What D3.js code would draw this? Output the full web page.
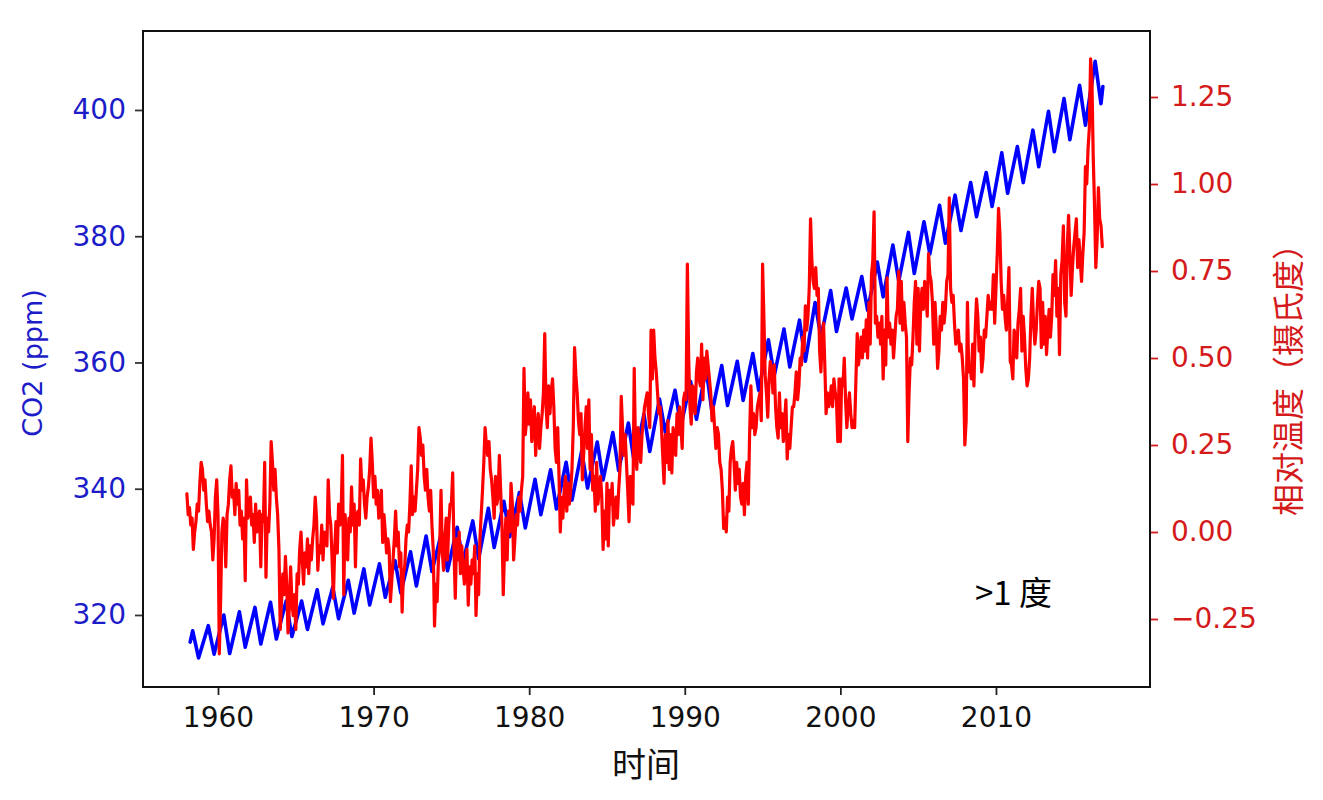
<!DOCTYPE html>
<html><head><meta charset="utf-8">
<script src="https://cdn.jsdelivr.net/npm/d3@7"></script>
<style>body{margin:0;background:#fff}svg{display:block}</style>
</head><body>
<svg id="c" width="1323" height="800"></svg>
<script>
// ---------- data ----------
const xTickYears = [1960, 1970, 1980, 1990, 2000, 2010];
const co2TickValues = [320, 340, 360, 380, 400];
const tempTickValues = [-0.25, 0, 0.25, 0.5, 0.75, 1.0, 1.25];
const tempTickLabels = ["\u22120.25", "0.00", "0.25", "0.50", "0.75", "1.00", "1.25"];

// Mauna Loa CO2 (ppm): yearly May maximum and autumn minimum
const co2Years = [1958,1959,1960,1961,1962,1963,1964,1965,1966,1967,1968,1969,1970,1971,1972,1973,1974,1975,1976,1977,1978,1979,1980,1981,1982,1983,1984,1985,1986,1987,1988,1989,1990,1991,1992,1993,1994,1995,1996,1997,1998,1999,2000,2001,2002,2003,2004,2005,2006,2007,2008,2009,2010,2011,2012,2013,2014,2015,2016];
const co2MayPeak = [317.5,318.3,320.0,320.5,321.2,322.0,322.2,322.2,324.0,324.4,325.5,327.3,328.1,328.6,330.0,332.5,333.1,333.9,334.9,336.9,338.0,339.4,341.5,343.0,344.2,346.0,347.4,348.9,350.4,351.8,354.2,355.6,357.0,359.0,359.5,360.2,361.4,363.6,365.3,366.7,369.5,371.4,371.8,373.6,375.9,378.6,380.6,382.3,384.9,386.5,388.5,390.1,393.2,394.2,396.8,399.8,401.8,403.9,407.7];
const co2AutumnLow = [313.2,313.8,313.9,314.9,315.4,316.2,316.6,317.7,318.6,319.4,320.3,321.6,322.8,323.5,324.6,326.9,327.0,328.4,328.9,330.7,332.4,333.8,335.9,336.8,338.2,340.1,341.4,342.9,344.2,345.9,348.9,349.9,351.0,352.1,353.2,354.0,355.6,357.9,359.3,360.2,364.0,364.9,366.9,368.3,370.4,372.9,374.1,377.2,378.9,380.9,383.1,384.7,386.8,388.5,391.0,393.4,395.3,397.6,401.0];
const co2FirstPoint = { year: 1958.21, ppm: 315.7 };
const co2LastPoint  = { year: 2016.87, ppm: 403.7 };

// Monthly relative temperature (deg C), one row per year from 1958
const tempFirstYear = 1958;
const tempMonthly = [
 [0.11,0.05,0.07,0.02,0.04,-0.05,0.00,0.03,0.08,0.06,0.14,0.20],
 [0.18,0.12,0.15,0.08,0.03,0.06,0.02,0.00,-0.08,-0.02,0.10,0.15],
 [0.05,-0.35,-0.20,0.00,0.04,0.02,-0.10,0.05,0.08,0.15,0.19,0.10],
 [0.12,0.05,0.14,0.08,0.12,0.02,0.06,-0.02,0.04,-0.14,0.15,0.04],
 [0.06,0.10,0.02,0.05,-0.03,0.08,0.00,0.04,0.06,-0.10,0.05,0.03],
 [0.20,-0.13,0.04,0.00,0.08,0.26,0.20,0.12,0.18,0.10,0.05,-0.05],
 [-0.28,-0.20,-0.12,-0.18,-0.07,-0.15,-0.29,-0.22,-0.10,-0.20,-0.24,-0.18],
 [-0.28,-0.12,-0.15,-0.05,0.00,-0.08,-0.15,-0.06,-0.10,-0.02,-0.12,-0.04],
 [-0.08,-0.02,0.02,0.10,0.04,-0.11,-0.04,-0.06,0.02,-0.08,0.00,-0.03],
 [-0.04,0.15,0.05,0.02,-0.08,-0.19,-0.05,0.03,-0.06,0.08,0.02,0.06],
 [0.22,-0.18,0.05,-0.02,-0.08,0.04,0.00,0.13,0.02,0.08,-0.10,0.05],
 [0.06,0.02,0.21,0.12,0.15,0.08,0.04,0.10,0.13,0.18,0.27,0.20],
 [0.10,0.16,0.08,0.12,0.04,0.08,0.12,-0.03,0.05,0.00,-0.06,-0.02],
 [-0.05,-0.20,-0.14,-0.08,-0.02,0.06,-0.04,0.00,-0.10,-0.06,-0.23,-0.12],
 [-0.10,-0.02,0.02,0.00,0.08,0.19,0.05,0.10,0.06,0.12,0.18,0.30],
 [0.27,0.22,0.25,0.16,0.12,0.18,0.10,0.06,0.12,0.02,-0.05,-0.27],
 [-0.15,-0.20,-0.08,-0.04,0.12,-0.06,-0.11,-0.02,0.04,-0.08,0.02,0.08],
 [0.08,0.17,-0.05,-0.19,-0.02,-0.08,0.00,-0.12,-0.04,-0.10,-0.15,-0.09],
 [-0.05,-0.21,-0.10,-0.15,-0.08,-0.12,-0.04,-0.24,-0.12,-0.18,-0.02,0.05],
 [0.12,0.20,0.30,0.25,0.22,0.26,0.18,0.15,0.10,0.04,0.16,0.08],
 [0.10,0.22,0.12,0.02,-0.18,-0.05,0.04,-0.08,0.06,0.00,0.14,0.08],
 [-0.08,-0.02,0.05,0.02,0.10,0.06,0.12,0.16,0.47,0.28,0.32,0.40],
 [0.31,0.38,0.26,0.32,0.36,0.22,0.30,0.34,0.24,0.30,0.34,0.40],
 [0.57,0.36,0.30,0.42,0.34,0.40,0.44,0.36,0.24,0.20,0.30,0.16],
 [0.00,0.10,0.04,0.12,0.16,0.06,0.14,0.08,0.12,0.18,0.30,0.53],
 [0.45,0.40,0.32,0.28,0.34,0.15,0.22,0.30,0.36,0.24,0.38,0.18],
 [0.28,0.12,0.16,0.06,0.20,0.08,0.12,0.16,0.10,-0.05,0.06,-0.02],
 [0.14,-0.04,0.12,0.08,0.14,0.02,0.06,0.10,0.04,0.12,0.18,0.39],
 [0.30,0.22,0.28,0.20,0.12,0.03,0.16,0.10,0.08,0.47,0.24,0.18],
 [0.30,0.24,0.20,0.28,0.32,0.36,0.38,0.40,0.34,0.30,0.58,0.44],
 [0.58,0.50,0.46,0.40,0.34,0.36,0.30,0.22,0.14,0.28,0.20,0.32],
 [0.18,0.28,0.17,0.30,0.26,0.22,0.34,0.28,0.36,0.30,0.24,0.38],
 [0.40,0.38,0.77,0.50,0.36,0.31,0.42,0.40,0.34,0.46,0.50,0.44],
 [0.42,0.54,0.38,0.50,0.44,0.52,0.48,0.44,0.40,0.32,0.36,0.30],
 [0.24,0.30,0.28,0.20,0.18,0.12,0.01,0.04,0.00,0.10,0.06,0.20],
 [0.24,0.26,0.20,0.12,0.20,0.14,0.18,0.10,0.08,0.14,0.05,0.16],
 [0.20,0.08,0.28,0.42,0.30,0.34,0.28,0.30,0.36,0.38,0.40,0.32],
 [0.77,0.62,0.45,0.40,0.33,0.44,0.49,0.46,0.40,0.48,0.36,0.30],
 [0.27,0.40,0.30,0.34,0.26,0.32,0.38,0.21,0.28,0.24,0.30,0.36],
 [0.36,0.40,0.46,0.38,0.42,0.50,0.48,0.56,0.52,0.65,0.58,0.62],
 [0.70,0.90,0.78,0.72,0.70,0.76,0.68,0.70,0.52,0.46,0.56,0.60],
 [0.48,0.34,0.40,0.36,0.38,0.42,0.36,0.44,0.40,0.38,0.26,0.44],
 [0.26,0.44,0.42,0.50,0.38,0.30,0.36,0.40,0.34,0.30,0.32,0.30],
 [0.44,0.57,0.48,0.52,0.56,0.50,0.58,0.52,0.61,0.50,0.66,0.54],
 [0.74,0.78,0.92,0.60,0.62,0.56,0.60,0.54,0.62,0.44,0.58,0.48],
 [0.73,0.56,0.60,0.54,0.58,0.50,0.56,0.62,0.64,0.75,0.60,0.72],
 [0.58,0.66,0.60,0.56,0.26,0.40,0.50,0.48,0.56,0.66,0.72,0.54],
 [0.70,0.52,0.66,0.70,0.64,0.72,0.68,0.62,0.80,0.74,0.72,0.66],
 [0.54,0.66,0.58,0.47,0.52,0.62,0.58,0.66,0.60,0.64,0.72,0.74],
 [0.96,0.70,0.66,0.68,0.60,0.54,0.56,0.58,0.52,0.54,0.50,0.44],
 [0.25,0.32,0.66,0.46,0.48,0.44,0.54,0.42,0.58,0.67,0.62,0.52],
 [0.56,0.46,0.50,0.58,0.56,0.62,0.68,0.64,0.66,0.64,0.74,0.60],
 [0.70,0.80,0.93,0.86,0.72,0.64,0.68,0.62,0.58,0.66,0.76,0.49],
 [0.48,0.44,0.58,0.56,0.50,0.60,0.64,0.70,0.52,0.62,0.56,0.47],
 [0.42,0.44,0.50,0.62,0.70,0.60,0.54,0.58,0.66,0.72,0.70,0.53],
 [0.66,0.54,0.62,0.51,0.58,0.64,0.56,0.62,0.74,0.68,0.78,0.62],
 [0.70,0.51,0.74,0.78,0.88,0.66,0.62,0.82,0.91,0.80,0.68,0.76],
 [0.82,0.86,0.90,0.76,0.84,0.78,0.72,0.80,0.86,1.05,1.00,1.10],
 [1.16,1.36,1.30,1.08,0.94,0.76,0.84,0.99,0.90,0.88,0.82]
];

const xLabelText = "时间";
const co2LabelText = "CO2 (ppm)";
const tempLabelText = "相对温度（摄氏度）";
const noteText = ">1 度";

// ---------- build series ----------
const co2Series = [co2FirstPoint];
co2Years.forEach((y, i) => {
  co2Series.push({ year: y + 0.375, ppm: co2MayPeak[i] });
  co2Series.push({ year: y + 0.75, ppm: co2AutumnLow[i] });
});
co2Series.push(co2LastPoint);

const tempSeries = [];
tempMonthly.forEach((row, yi) => row.forEach((v, m) => tempSeries.push({ year: tempFirstYear + yi + m / 12, t: v })));

// ---------- layout ----------
const L = 143, R = 1150, T = 31, B = 687;
const svg = d3.select("#c");
const x = d3.scaleLinear().domain([1955.18, 2019.9]).range([L, R]);
const yC = d3.scaleLinear().domain([308.59, 412.51]).range([B, T]);
const yT = d3.scaleLinear().domain([-0.4454, 1.4397]).range([B, T]);

const blueText = "#1c1cc8", redText = "#d41a1a";
const tickFont = "'DejaVu Sans', sans-serif";
const cjkFont = "'Noto Sans CJK SC', 'DejaVu Sans', sans-serif";

svg.append("rect").attr("x", 0).attr("y", 0).attr("width", 1323).attr("height", 800).attr("fill", "#fff");

svg.append("clipPath").attr("id", "clip").append("rect")
  .attr("x", L).attr("y", T).attr("width", R - L).attr("height", B - T);

const plot = svg.append("g").attr("clip-path", "url(#clip)");
plot.append("path").datum(co2Series)
  .attr("fill", "none").attr("stroke", "#0000ff").attr("stroke-width", 3.6)
  .attr("stroke-linejoin", "round").attr("stroke-linecap", "round")
  .attr("d", d3.line().x(d => x(d.year)).y(d => yC(d.ppm)));
plot.append("path").datum(tempSeries)
  .attr("fill", "none").attr("stroke", "#ff0000").attr("stroke-width", 3.2)
  .attr("stroke-linejoin", "round").attr("stroke-linecap", "round")
  .attr("d", d3.line().x(d => x(d.year)).y(d => yT(d.t)));

// axes
const gx = svg.append("g").attr("transform", `translate(0,${B})`)
  .call(d3.axisBottom(x).tickValues(xTickYears).tickFormat(d3.format("d")).tickSize(8).tickPadding(12));
const gl = svg.append("g").attr("transform", `translate(${L},0)`)
  .call(d3.axisLeft(yC).tickValues(co2TickValues).tickSize(8).tickPadding(9));
const gr = svg.append("g").attr("transform", `translate(${R},0)`)
  .call(d3.axisRight(yT).tickValues(tempTickValues).tickFormat((d, i) => tempTickLabels[i]).tickSize(8).tickPadding(13));

[gx, gl, gr].forEach(g => {
  g.select(".domain").remove();
  g.selectAll("text").attr("font-family", tickFont).attr("font-size", 28);
  g.selectAll("line").attr("stroke-width", 1.8);
});
gx.selectAll("text").attr("fill", "#111");
gx.selectAll("line").attr("stroke", "#222");
gl.selectAll("text").attr("fill", blueText);
gl.selectAll("line").attr("stroke", "#333");
gr.selectAll("text").attr("fill", redText);
gr.selectAll("line").attr("stroke", redText);

// frame
svg.append("rect").attr("x", L).attr("y", T).attr("width", R - L).attr("height", B - T)
  .attr("fill", "none").attr("stroke", "#111").attr("stroke-width", 2);

// labels
svg.append("text").attr("x", 646).attr("y", 762).attr("text-anchor", "middle")
  .attr("dominant-baseline", "central").attr("font-family", cjkFont).attr("font-size", 34)
  .attr("fill", "#111").text(xLabelText);
svg.append("text").attr("transform", "translate(32,363) rotate(-90)").attr("text-anchor", "middle")
  .attr("dominant-baseline", "central").attr("font-family", tickFont).attr("font-size", 27)
  .attr("fill", blueText).text(co2LabelText);
svg.append("text").attr("transform", "translate(1286,372) rotate(-90)").attr("text-anchor", "middle")
  .attr("dominant-baseline", "central").attr("font-family", cjkFont).attr("font-size", 32)
  .attr("fill", redText).text(tempLabelText);
svg.append("text").attr("x", 975).attr("y", 591).attr("dominant-baseline", "central")
  .attr("font-family", cjkFont).attr("font-size", 33).attr("fill", "#000").text(noteText);
</script>
</body></html>
